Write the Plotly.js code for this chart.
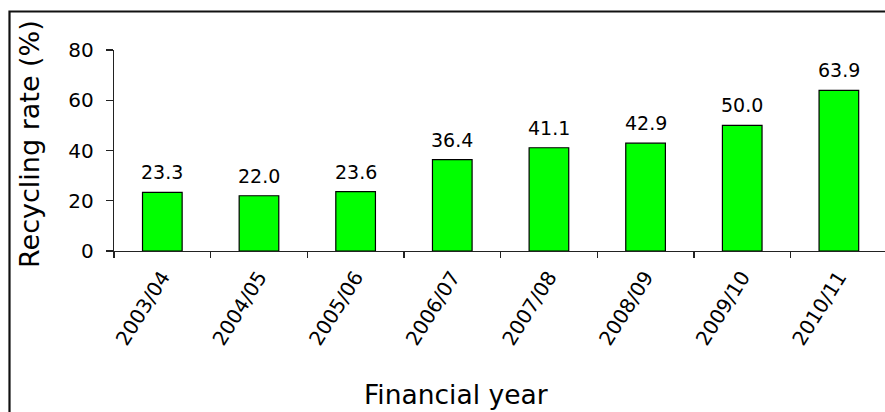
<!DOCTYPE html>
<html>
<head>
<meta charset="utf-8">
<script src="https://cdn.plot.ly/plotly-3.0.1.min.js"></script>
<style>
  html, body { margin: 0; padding: 0; background: #fff; overflow: hidden; }
  #chart { width: 885px; height: 412px; }
</style>
</head>
<body>
<div id="chart"></div>
<script>
const years = ["2003/04", "2004/05", "2005/06", "2006/07", "2007/08", "2008/09", "2009/10", "2010/11"];
const rates = [23.3, 22.0, 23.6, 36.4, 41.1, 42.9, 50.0, 63.9];
const yTicks = [0, 20, 40, 60, 80];
const xTitle = "Financial year";
const yTitle = "Recycling rate (%)";

const FONT = "DejaVu Sans, Liberation Sans, Arial, sans-serif";
const L = 114, T = 50, W = 885, H = 412, B = 161, R = 0;
const plotW = W - L - R, plotH = H - T - B;
const px2x = p => (p - L) / plotW;
const py2y = p => (H - B - p) / plotH;

const trace = {
  type: "bar",
  x: years,
  y: rates,
  width: 0.41,
  marker: { color: "#00ff00", line: { color: "#000000", width: 1.2 } },
  hoverinfo: "x+y"
};

const valueLabels = years.map((yr, i) => ({
  x: yr, y: rates[i], xref: "x", yref: "y",
  text: rates[i].toFixed(1), showarrow: false,
  yanchor: "bottom", yshift: 7,
  font: { family: FONT, size: 19, color: "#000" }
}));

const layout = {
  width: W, height: H,
  margin: { l: L, r: R, t: T, b: B, pad: 0 },
  paper_bgcolor: "#ffffff",
  plot_bgcolor: "#ffffff",
  showlegend: false,
  bargap: 0,
  font: { family: FONT, color: "#000" },
  xaxis: {
    type: "category",
    range: [-0.5, -0.5 + plotW / 96.65],
    showline: true, linecolor: "#222", linewidth: 1.3,
    ticks: "outside", tickson: "boundaries", ticklen: 6, tickcolor: "#222", tickwidth: 1.3,
    tickangle: -58,
    ticklabelstandoff: 5,
    tickfont: { family: FONT, size: 20, color: "#000" },
    showgrid: false, zeroline: false
  },
  yaxis: {
    range: [0, 80],
    tickvals: yTicks,
    ticktext: yTicks.map(String),
    showline: true, linecolor: "#222", linewidth: 1.3,
    ticks: "outside", ticklen: 7, tickcolor: "#222", tickwidth: 1.3,
    tickfont: { family: FONT, size: 20, color: "#000" },
    ticklabelstandoff: 8,
    showgrid: false, zeroline: false
  },
  annotations: valueLabels.concat([
    {
      text: yTitle, xref: "paper", yref: "paper",
      x: px2x(29), y: py2y(144), xanchor: "center", yanchor: "middle",
      textangle: -90, showarrow: false,
      font: { family: FONT, size: 27, color: "#000" }
    },
    {
      text: xTitle, xref: "paper", yref: "paper",
      x: px2x(456), y: py2y(394), xanchor: "center", yanchor: "middle",
      showarrow: false,
      font: { family: FONT, size: 26.5, color: "#000" }
    }
  ]),
  shapes: [
    {
      type: "path", xref: "paper", yref: "paper",
      path: `M ${px2x(9.5)} ${py2y(420)} L ${px2x(9.5)} ${py2y(11.5)} L ${px2x(890)} ${py2y(11.5)}`,
      line: { color: "#111", width: 2.2 }
    }
  ]
};

Plotly.newPlot("chart", [trace], layout, { staticPlot: true, displayModeBar: false });
</script>
</body>
</html>
